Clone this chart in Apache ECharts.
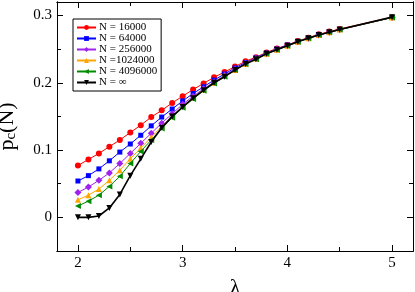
<!DOCTYPE html>
<html>
<head>
<meta charset="utf-8">
<script src="https://cdn.jsdelivr.net/npm/echarts@6/dist/echarts.min.js"></script>
<style>
html,body{margin:0;padding:0;background:#fff;}
#c{width:415px;height:292px;}
</style>
</head>
<body>
<div id="c"></div>
<script>
const lambdas = [2.0,2.1,2.2,2.3,2.4,2.5,2.6,2.7,2.8,2.9,3.0,3.1,3.2,3.3,3.4,3.5,3.6,3.7,3.8,3.9,4.0,4.1,4.2,4.3,4.4,4.5,5.0];
const seriesNames = ['N = 16000','N = 64000','N = 256000','N =1024000','N = 4096000','N = \u221e'];
const pN16000   = [0.077,0.086,0.095,0.105,0.115,0.126,0.137,0.149,0.159,0.170,0.180,0.190,0.199,0.208,0.216,0.224,0.232,0.238,0.245,0.251,0.256,0.262,0.267,0.272,0.276,0.280,0.2975];
const pN64000   = [0.054,0.062,0.072,0.084,0.097,0.109,0.122,0.136,0.149,0.161,0.173,0.184,0.194,0.204,0.213,0.222,0.230,0.237,0.244,0.250,0.256,0.261,0.266,0.271,0.275,0.279,0.297];
const pN256000  = [0.037,0.045,0.055,0.066,0.080,0.095,0.110,0.125,0.140,0.154,0.168,0.180,0.191,0.201,0.211,0.220,0.229,0.236,0.243,0.250,0.255,0.261,0.266,0.271,0.275,0.279,0.297];
const pN1024000 = [0.026,0.033,0.042,0.055,0.070,0.087,0.103,0.119,0.135,0.150,0.165,0.178,0.190,0.200,0.210,0.219,0.228,0.236,0.243,0.249,0.255,0.261,0.266,0.271,0.275,0.279,0.297];
const pN4096000 = [0.017,0.024,0.033,0.046,0.061,0.080,0.098,0.115,0.132,0.148,0.163,0.176,0.188,0.199,0.209,0.219,0.228,0.235,0.243,0.249,0.255,0.261,0.266,0.271,0.275,0.279,0.297];
const pNinf     = [0.000,0.000,0.002,0.014,0.034,0.062,0.087,0.112,0.133,0.150,0.164,0.177,0.189,0.200,0.209,0.219,0.228,0.235,0.243,0.249,0.255,0.261,0.266,0.271,0.275,0.279,0.2975];
const xMajorTicks = [2,3,4,5];
const xMinorTicks = [2.5,3.5,4.5];
const yMajorTicks = [0,0.1,0.2,0.3];
const yMinorTicks = [0.05,0.15,0.25];

const allValues = [pN16000,pN64000,pN256000,pN1024000,pN4096000,pNinf];
const colors = ['#ff0000','#0000ff','#a020f0','#ffa500','#008b00','#000000'];
const symbols = ['circle','rect','diamond','triangle','triangle','triangle'];
const rotations = [0,0,0,0,90,180];
const sizes = [6,5,7,6,6,6];
const FONT = '"Liberation Serif","DejaVu Serif",serif';

const chart = echarts.init(document.getElementById('c'), null, {renderer:'canvas'});

function xAx(pos, ticks, len, labels){
  return {
    type:'value', position:pos, min:1.8, max:5.2,
    axisLine:{show:true, onZero:false, lineStyle:{color:'#000', width:1}},
    axisTick:{show:true, inside:true, length:len, customValues:ticks, lineStyle:{color:'#000', width:1}},
    axisLabel:labels ? {show:true, customValues:ticks, fontFamily:FONT, fontSize:15, color:'#000', margin:5} : {show:false},
    splitLine:{show:false},
    name: labels ? '\u03bb' : '',
    nameLocation:'middle', nameGap:26,
    nameTextStyle:{fontFamily:FONT, fontSize:22, color:'#000'}
  };
}
function yAx(pos, ticks, len, labels){
  return {
    type:'value', position:pos, min:-0.05, max:0.32,
    axisLine:{show:true, onZero:false, lineStyle:{color:'#000', width:1}},
    axisTick:{show:true, inside:true, length:len, customValues:ticks, lineStyle:{color:'#000', width:1}},
    axisLabel:labels ? {show:true, customValues:ticks, fontFamily:FONT, fontSize:15, color:'#000', margin:5} : {show:false},
    splitLine:{show:false},
    name: labels ? '{a|p}{b|c}{a|(N)}' : '',
    nameLocation:'middle', nameGap:38, nameRotate:90,
    nameTextStyle:{
      rich:{
        a:{fontFamily:FONT, fontSize:22, color:'#000', lineHeight:24, verticalAlign:'middle'},
        b:{fontFamily:FONT, fontSize:15, color:'#000', lineHeight:24, verticalAlign:'bottom', padding:[8,0,0,0]}
      }
    }
  };
}

const series = allValues.map((vals,i)=>({
  name: seriesNames[i],
  type:'line',
  data: lambdas.map((x,j)=>[x, vals[j]]),
  xAxisIndex:0, yAxisIndex:0,
  symbol: symbols[i], symbolSize: sizes[i], symbolRotate: rotations[i],
  showAllSymbol:true,
  lineStyle:{color:colors[i], width: i===5 ? 1.6 : 1},
  itemStyle:{color:colors[i]},
  z: 2+i,
  animation:false
}));

chart.setOption({
  animation:false,
  backgroundColor:'#fff',
  grid:{left:57, right:2, top:2, bottom:41, containLabel:false, outerBoundsMode:'none'},
  xAxis:[
    xAx('bottom', xMajorTicks, 6, true),
    xAx('bottom', xMinorTicks, 4, false),
    xAx('top', xMajorTicks, 6, false),
    xAx('top', xMinorTicks, 4, false)
  ],
  yAxis:[
    yAx('left', yMajorTicks, 6, true),
    yAx('left', yMinorTicks, 4, false),
    yAx('right', yMajorTicks, 6, false),
    yAx('right', yMinorTicks, 4, false)
  ],
  legend:{
    show:true, orient:'vertical', left:73, top:19,
    data: seriesNames,
    backgroundColor:'#fff', borderColor:'#000', borderWidth:1,
    padding:[3,4,3,3],
    itemWidth:19, itemHeight:6, itemGap:0,
    textStyle:{fontFamily:FONT, fontSize:11, color:'#000', lineHeight:11, padding:[0,0,0,-2]}
  },
  series: series
});
</script>
</body>
</html>
